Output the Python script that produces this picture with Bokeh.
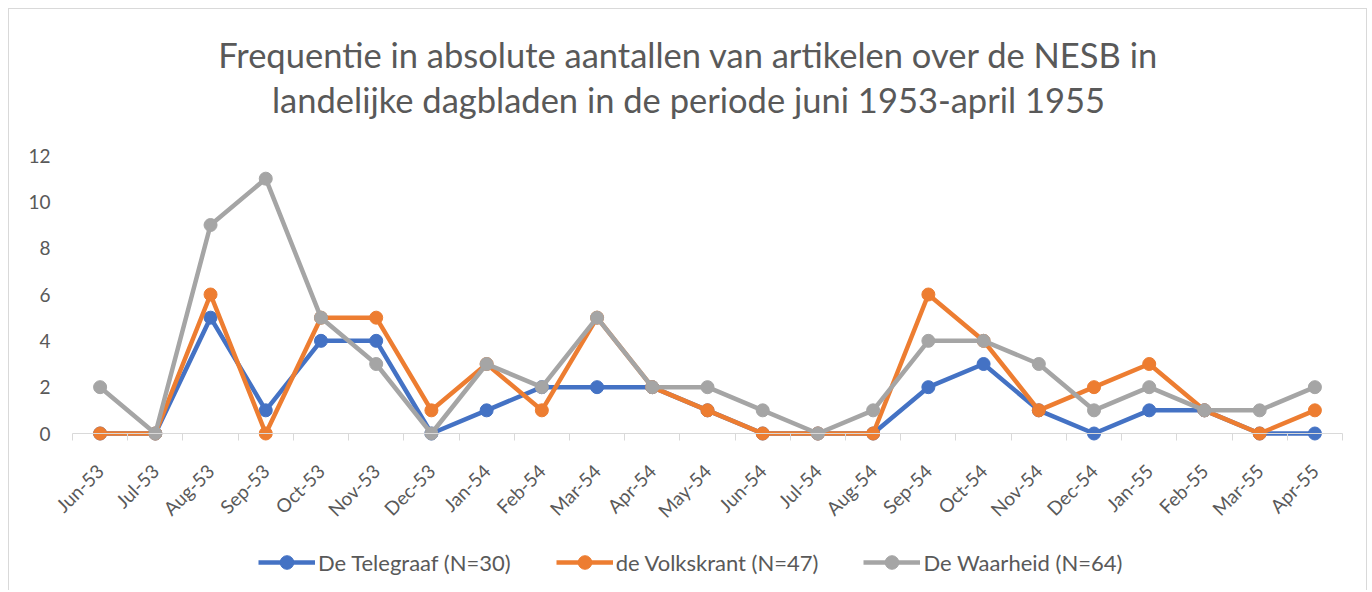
from bokeh.plotting import figure
from bokeh.models import (Range1d, LinearAxis, FixedTicker, Legend, LegendItem,
                          Label, ColumnDataSource)
from bokeh.embed import file_html
from bokeh.resources import INLINE

months = ["Jun-53", "Jul-53", "Aug-53", "Sep-53", "Oct-53", "Nov-53", "Dec-53",
          "Jan-54", "Feb-54", "Mar-54", "Apr-54", "May-54", "Jun-54", "Jul-54",
          "Aug-54", "Sep-54", "Oct-54", "Nov-54", "Dec-54", "Jan-55", "Feb-55",
          "Mar-55", "Apr-55"]
telegraaf = [0, 0, 5, 1, 4, 4, 0, 1, 2, 2, 2, 1, 0, 0, 0, 2, 3, 1, 0, 1, 1, 0, 0]
volkskrant = [0, 0, 6, 0, 5, 5, 1, 3, 1, 5, 2, 1, 0, 0, 0, 6, 4, 1, 2, 3, 1, 0, 1]
waarheid = [2, 0, 9, 11, 5, 3, 0, 3, 2, 5, 2, 2, 1, 0, 1, 4, 4, 3, 1, 2, 1, 1, 2]
series_names = ["De Telegraaf (N=30)", "de Volkskrant (N=47)", "De Waarheid (N=64)"]
series_colors = ["#4472C4", "#ED7D31", "#A5A5A5"]
y_ticks = [0, 2, 4, 6, 8, 10, 12]
title_lines = ["Frequentie in absolute aantallen van artikelen over de NESB in",
               "landelijke dagbladen in de periode juni 1953-april 1955"]

FONT = "Lato"
TXT = "#595959"
GRID = "#d9d9d9"

n = len(months)
xs = list(range(1, n + 1))
bounds = [i + 0.5 for i in range(0, n + 1)]

# layout geometry (pixels within the canvas)
W, H = 1359, 582
band_left, band_right = 63, 1333          # plot band edges (x = 0.5 and n + 0.5)
band_top, band_bottom = 146, 424          # where 12 and 0 fall
ppx = (band_right - band_left) / n
x_lo = 0.5 - band_left / ppx
x_hi = n + 0.5 + (W - band_right) / ppx
ymax_val = max(y_ticks)
ppu = (band_bottom - band_top) / ymax_val
y_lo = -(H - band_bottom) / ppu
y_hi = ymax_val + band_top / ppu

p = figure(width=W, height=H, output_backend="svg", toolbar_location=None,
           x_range=Range1d(x_lo, x_hi), y_range=Range1d(y_lo, y_hi),
           x_axis_type=None, y_axis_type=None,
           min_border_left=0, min_border_right=0, min_border_top=0,
           min_border_bottom=0)
p.outline_line_color = None
p.background_fill_color = "white"
p.border_fill_color = "white"
p.styles = {"position": "relative", "left": "8px", "top": "8px",
            "border-left": "1px solid #d9d9d9", "border-top": "1px solid #d9d9d9",
            "border-right": "1px solid #d9d9d9"}

for line, ys in zip(title_lines, [H - 45, H - 90]):
    p.add_layout(Label(x=679, y=ys, x_units="screen", y_units="screen", text=line,
                       text_align="center", text_baseline="middle",
                       text_font=FONT, text_font_size="34.5px", text_color=TXT))

xaxis = LinearAxis(ticker=FixedTicker(ticks=xs, minor_ticks=bounds),
                   major_label_overrides={x: m for x, m in zip(xs, months)},
                   fixed_location=0, bounds=(0.5, n + 0.5))
xaxis.major_label_orientation = 0.785398
xaxis.major_tick_in = 0
xaxis.major_tick_out = 0
xaxis.minor_tick_in = 0
xaxis.minor_tick_out = 7
xaxis.minor_tick_line_color = GRID
xaxis.axis_line_color = GRID
xaxis.major_label_text_font = FONT
xaxis.major_label_text_font_size = "19px"
xaxis.major_label_text_color = TXT
xaxis.major_label_standoff = 27
p.add_layout(xaxis, "below")

yaxis = LinearAxis(ticker=FixedTicker(ticks=y_ticks, minor_ticks=[]),
                   fixed_location=0.5)
yaxis.axis_line_color = None
yaxis.major_tick_line_color = None
yaxis.minor_tick_line_color = None
yaxis.major_label_text_font = FONT
yaxis.major_label_text_font_size = "19px"
yaxis.major_label_text_color = TXT
yaxis.major_label_standoff = 16
p.add_layout(yaxis, "left")

p.ygrid.ticker = FixedTicker(ticks=y_ticks)
p.ygrid.grid_line_color = GRID
p.ygrid.bounds = (0.5, n + 0.5)
p.xgrid.grid_line_color = None

items = []
for name, vals, col in zip(series_names, [telegraaf, volkskrant, waarheid], series_colors):
    src = ColumnDataSource(dict(x=xs, y=vals))
    r1 = p.line("x", "y", source=src, line_color=col, line_width=4.5)
    r2 = p.scatter("x", "y", source=src, size=13, fill_color=col, line_color=col)
    items.append(LegendItem(label=name, renderers=[r1, r2]))

legend = Legend(items=items, orientation="horizontal", location=(249, 12))
legend.label_text_font = FONT
legend.label_text_font_size = "22px"
legend.label_text_color = TXT
legend.glyph_width = 57
legend.glyph_height = 34
legend.label_standoff = 3
legend.spacing = 45
legend.padding = 0
legend.margin = 0
legend.border_line_color = None
legend.background_fill_alpha = 0
p.add_layout(legend, "center")

open("out.html", "w").write(file_html(p, INLINE))
